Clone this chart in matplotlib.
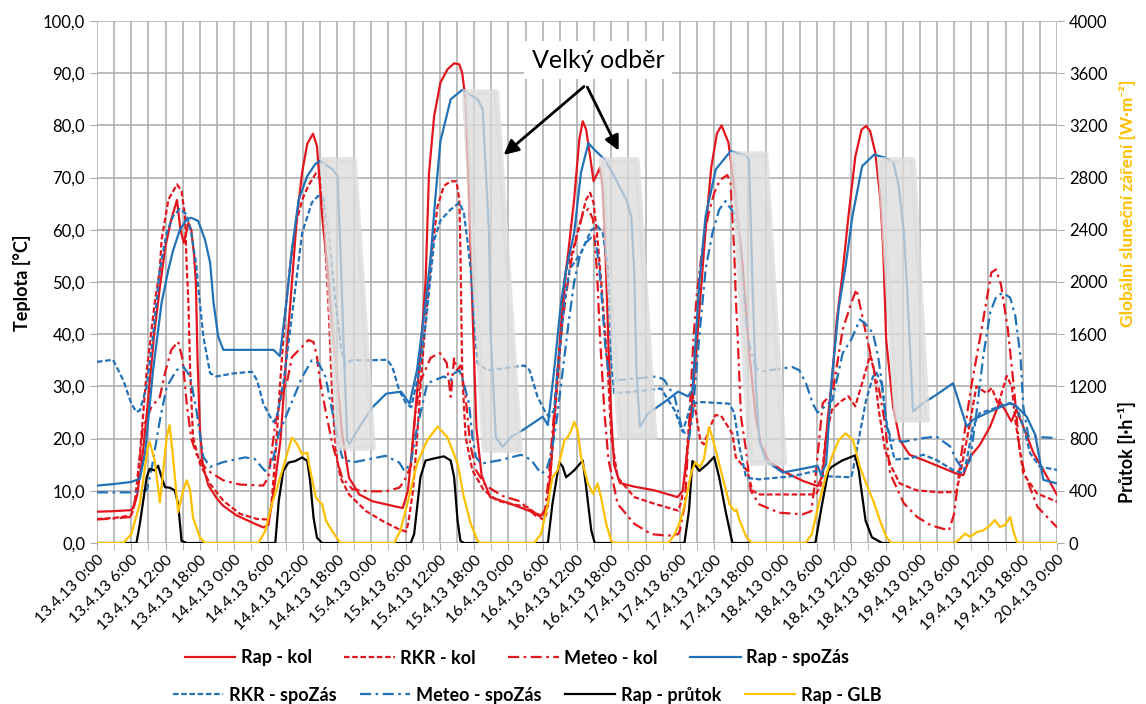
import datetime as dt
import matplotlib
matplotlib.use("Agg")
import matplotlib.pyplot as plt
from matplotlib.patches import Polygon
from matplotlib.ticker import FuncFormatter, MultipleLocator

plt.rcParams['font.family'] = ['Lato', 'DejaVu Sans']

# time in hours since 13.4.2013 0:00, temperature in degC
rap_kol = [(0, 6.0), (3, 6.1), (6, 6.3), (6.5, 7.2), (7, 9), (8, 17), (9, 28), (10, 40), (11, 49), (12, 57),
           (13, 62), (14, 65.7), (14.6, 60), (15.2, 57.5), (16, 61.3), (16.5, 60), (17, 55), (17.3, 50),
           (17.6, 35), (18, 22), (18.5, 15), (19.5, 11), (21, 8.5), (22, 7.2), (24.4, 5.3), (26, 4.5),
           (28, 3.5), (29.1, 3.0), (30, 3.5), (31.2, 12), (32.1, 19.6), (33.2, 36.9), (34.1, 49.8),
           (35, 62.6), (35.9, 71), (36.8, 76.5), (37.8, 78.4), (38.5, 76), (39.4, 62.6), (40.6, 49.8),
           (41.8, 33.7), (42.9, 20.9), (44.1, 12.5), (45.9, 9.3), (48.2, 8.0), (51.8, 7.1), (53.5, 6.7),
           (54.4, 10), (54.9, 15.2), (56.6, 36.3), (57.5, 50), (58.1, 70.9), (59, 81.8), (60.1, 88.2),
           (61.3, 90.7), (62.5, 91.9), (63.4, 91.7), (63.9, 90.1), (64.5, 85), (65, 70), (65.7, 45),
           (66.4, 22), (67.3, 13), (68.8, 8.8), (72.4, 7.5), (77.7, 5.3), (78.9, 7), (79.4, 13.9),
           (80.6, 33), (81.8, 50), (82.4, 55), (83.5, 65.8), (84.4, 77.3), (85, 80.8), (85.6, 79.2),
           (86.2, 74.8), (86.9, 69.3), (87.6, 70.9), (88, 71.9), (88.5, 68.4), (89, 55), (89.5, 38),
           (90, 24), (90.5, 15), (91.5, 11.5), (94, 10.8), (97.5, 10.1), (101.6, 8.8), (102.5, 10),
           (103.9, 23.5), (105.1, 40), (106.5, 60), (107.5, 72), (108.5, 78.5), (109.3, 80), (110.5, 76.7),
           (111.8, 65.8), (113, 53), (114.1, 36.9), (115.3, 24.1), (116.2, 18.9), (117.6, 15.7),
           (120, 13.8), (123.5, 11.9), (126.1, 10.9), (127, 13), (127.9, 24), (128.6, 31), (129.5, 43),
           (130.4, 51), (131.5, 62.6), (132.7, 74), (133.8, 79.2), (134.6, 79.9), (135.3, 78.9),
           (136.2, 74.8), (137.1, 65.8), (137.6, 56), (138.1, 39), (139.3, 26.2), (140.5, 19.7),
           (142.2, 16.9), (144.6, 15.9), (147.5, 14.6), (150.4, 13.3), (151.6, 13), (152.8, 16.5),
           (154.5, 18.8), (156.3, 22.3), (158, 27.1), (158.9, 25.5), (160, 23.3), (160.9, 25.5),
           (162.1, 22.3), (163.9, 17.2), (165.6, 14), (168, 9.2)]

rkr_kol = [(0, 4.6), (3, 4.8), (6, 5.3), (6.6, 7.5), (7.5, 17), (8.7, 33), (10.1, 46), (11, 52.4),
           (11.3, 58.1), (12.5, 65.8), (14, 68.7), (14.8, 67.4), (15.4, 62.6), (15.7, 53), (16, 46),
           (16.3, 33), (16.8, 20.3), (18, 15.2), (19.8, 11.3), (22.1, 8.1), (25, 5.6), (28, 4.6),
           (30, 4.5), (30.5, 7), (31.3, 18), (32.2, 33), (33, 45), (34, 55), (35, 62), (36, 66),
           (37, 68.5), (38.3, 70.8), (39, 70), (39.8, 60), (40.6, 43.4), (41.2, 27.3), (41.8, 17.7),
           (42.6, 12.5), (44.1, 9.3), (47.1, 6.1), (50, 4.2), (52.9, 2.6), (54.1, 2.2), (54.5, 4),
           (55.3, 10), (56, 20), (56.8, 33), (57.7, 45), (58.5, 55), (59.6, 64.5), (60.7, 68.4),
           (61.9, 69.3), (62.9, 69.3), (63.4, 65.8), (63.6, 56.2), (63.9, 33.1), (64.5, 20.3),
           (65.7, 13.9), (67.7, 10.1), (70.1, 8.1), (72.4, 7.5), (75.3, 6.9), (77.7, 4.9), (78.6, 5.3),
           (79.4, 13.9), (80.3, 26.7), (81.2, 39.6), (82.1, 52.4), (83, 55), (84.4, 60.7), (85.6, 65.8),
           (86.3, 67.1), (86.9, 65.2), (87.6, 58.1), (88.2, 50.5), (88.8, 42), (89.4, 33), (90, 20.3),
           (91.1, 12.6), (94, 8.8), (97.6, 7.5), (101.7, 6.2), (102.3, 8), (103, 14), (103.7, 24),
           (104.2, 28.6), (104.8, 25), (105.6, 19.5), (106.2, 18.9), (107.2, 22), (108.2, 24.5),
           (109.2, 24.4), (110.3, 22.5), (111.2, 20.9), (111.8, 16.4), (113.8, 13.8), (114.7, 10),
           (116, 9.3), (121.7, 9.3), (125.8, 9.3), (126.7, 11.2), (127.5, 20), (128.6, 25.5), (130, 27),
           (131.5, 28.1), (132.7, 26.2), (134, 31), (135.3, 36), (136, 33), (136.8, 25.5), (137.9, 17.8),
           (139, 14.6), (140.5, 11.4), (143.4, 10.1), (147.5, 9.7), (150.4, 9.8), (151.2, 14),
           (152.2, 19.7), (153.9, 30), (155.7, 28.7), (156.6, 29.7), (157.7, 26.5), (159.2, 32),
           (160.1, 30), (160.7, 23.6), (162.1, 13.3), (164.5, 9.5), (168, 7.9)]

meteo_kol = [(0, 4.5), (3, 4.7), (6, 5), (7, 10), (8, 22), (9.5, 26), (11, 28), (12, 33), (13, 37),
             (14.2, 38.6), (15, 35), (15.7, 26.7), (16.5, 20), (17.4, 17), (19.2, 14), (22.1, 12),
             (25, 11.2), (29.1, 11), (30, 12.6), (31.2, 22.8), (32.4, 29.2), (33.2, 30.5), (34.1, 35.6),
             (35.9, 37.6), (37, 38.9), (37.9, 38.5), (38.5, 35.6), (39.1, 30.5), (40, 25.4), (41.2, 18.9),
             (42.9, 12.5), (44.7, 10.3), (47.6, 9.9), (50.6, 9.9), (52.9, 10.6), (53.8, 11.9), (55, 15),
             (55.7, 25), (56.6, 31), (57.8, 34), (58.4, 35.5), (60, 36.4), (61.2, 34.5), (61.9, 28),
             (62.5, 35.5), (63, 33), (63.6, 34), (64.5, 28), (65.3, 19), (66.3, 14), (68, 11), (71, 9),
             (74, 8), (77, 5), (78.2, 4.5), (79, 12), (80, 25), (81, 38), (82, 47), (83, 54), (84, 59),
             (85, 63), (86, 64), (86.8, 62), (87.5, 52), (88, 40), (88.8, 25), (89.5, 16), (91.1, 7.5),
             (94, 3.7), (97, 1.7), (99.9, 1.4), (101.7, 1.7), (102, 2.4), (102.9, 7.5), (103.8, 26.7),
             (104.4, 39.6), (105, 48), (106, 57), (107, 63), (108, 67), (109, 69.5), (110.3, 70.5),
             (110.9, 69), (111.5, 56.2), (111.8, 46.6), (112.1, 40.1), (112.7, 24.1), (113.6, 17.7),
             (114.4, 10), (115.9, 7.4), (119.4, 5.8), (123.5, 5.5), (125, 6.1), (125.6, 11.2),
             (126.4, 20), (127, 26.8), (128.7, 28.7), (130.5, 40.9), (132, 46), (132.9, 48.6),
             (133.8, 44.1), (134.6, 40), (136, 33), (137, 28.7), (137.9, 22.9), (138.8, 13.3),
             (141.2, 7.6), (143.5, 5), (145.9, 3.4), (149.1, 2.4), (150, 5.6), (151.2, 16.5),
             (152.9, 29.4), (154.7, 40.3), (156.5, 51.8), (157.3, 52.4), (158.2, 49.5), (159.4, 40.9),
             (160.5, 29.4), (161.4, 18.5), (162.3, 13.3), (164.6, 6.9), (168, 3)]

rap_spozas = [(0, 11), (3, 11.3), (6, 11.7), (7.5, 12.3), (8.4, 17.1), (9.8, 33), (11.3, 46), (12.5, 52.4),
              (13.3, 56), (14.5, 60), (15.7, 62), (16.5, 62.3), (17.7, 61.7), (18.9, 58.1), (19.8, 53.7),
              (20.4, 46), (21.2, 39.6), (22.1, 37), (30.9, 37), (32, 35.8), (33.2, 46.6), (34.1, 56.2),
              (35.3, 65.8), (36.8, 70.3), (38.2, 72.6), (39, 73.2), (41.2, 71.6), (42.1, 70.3),
              (42.6, 56.2), (43.2, 36.9), (43.8, 19.6), (44.2, 19), (45.9, 22.2), (48.2, 26),
              (50.6, 28.6), (53.2, 29), (54.7, 26.7), (56, 33.1), (57.5, 46), (58.4, 55), (59.2, 66),
              (60.1, 77), (61.9, 85), (63.9, 86.8), (66.6, 85), (67.5, 83.1), (68, 72.2), (68.6, 59.4),
              (68.9, 39.6), (69.8, 20.3), (71, 18.4), (72.4, 20.3), (73.6, 21), (75.3, 22.2), (78, 24.2),
              (78.9, 22.6), (80, 33.1), (81.2, 46), (82.1, 52.4), (83.5, 59.4), (84.7, 71), (86, 76.6),
              (87, 75.4), (88.8, 73.5), (90.5, 70.3), (92.6, 65.8), (93.5, 62.6), (94, 52.4), (94.4, 33),
              (95, 22.2), (96.4, 24.8), (99.3, 27), (101.7, 29), (103.4, 28.1), (104.2, 29.2),
              (105.4, 49.8), (106.5, 62.6), (108.3, 71.6), (110.9, 75.1), (113.6, 74.2), (114.1, 73.5),
              (114.7, 49.8), (115.3, 30.5), (115.9, 19.6), (117.1, 15.7), (120, 13.5), (122.9, 14.1),
              (126.1, 14.8), (126.7, 13.2), (127.6, 15.1), (128.5, 30.5), (129.8, 45), (131, 53),
              (132.2, 62.6), (133.9, 72.2), (136, 74.4), (138, 73.8), (139.4, 72.8), (140.3, 68.4),
              (141.2, 59.5), (141.8, 48), (142.2, 39), (142.8, 25.2), (144.6, 26.8), (146.9, 28.4),
              (149.8, 30.6), (152.2, 22.3), (153.3, 23.6), (156.3, 25.2), (159.8, 26.8), (160.9, 26.2),
              (162.7, 24.2), (164.2, 20.7), (165.6, 12.1), (168, 11.4)]

rkr_spozas = [(0, 34.7), (2.8, 35.1), (4.6, 31.2), (6, 26.7), (6.9, 25.1), (7.5, 25.4), (8.7, 30),
              (9.8, 39.6), (11, 52.4), (12.2, 59.4), (13.3, 62.6), (14.5, 64), (15.7, 62.9), (16.5, 59.4),
              (17.4, 53), (17.7, 49.2), (18.6, 39.6), (19.8, 32.5), (20.9, 31.9), (23.9, 32.5),
              (27.1, 32.8), (28, 31.2), (29.1, 26.7), (30.3, 24.2), (30.9, 23.2), (31.5, 24.2),
              (32.6, 30.5), (34.1, 43.4), (35.9, 59.4), (37.6, 65.2), (38.7, 66.5), (39.6, 66.1),
              (40.5, 59.4), (41.7, 46.6), (42.8, 36.9), (43.4, 34.3), (44.6, 35), (47.6, 35), (50.8, 35.1),
              (51.7, 33.7), (52.9, 29.2), (54.1, 26.7), (55, 26), (55.9, 30.5), (56.4, 33), (57.6, 42.7),
              (58.5, 52.4), (59, 58), (60.1, 61.8), (61.9, 63.9), (63.4, 65.2), (64.2, 63.3), (64.8, 58.1),
              (65.4, 52.4), (66, 42.8), (66.6, 34.4), (68.3, 33.1), (70.7, 33.4), (74.8, 34), (75.7, 33.1),
              (77.1, 28), (78.3, 25.4), (79.1, 24.2), (80, 25.4), (80.6, 33.1), (81.8, 46), (82.7, 52.4),
              (84.7, 55.6), (86.5, 60), (87.6, 60.7), (88.5, 59.4), (89.4, 53), (90, 35), (90.5, 28.7),
              (94, 29), (98.7, 29.6), (101.1, 25.4), (102.5, 21.3), (104, 26.7), (105.8, 27),
              (110.6, 26.7), (111.5, 25), (112.5, 18), (113.6, 12.5), (115.9, 12.2), (121.7, 12.8),
              (125.8, 13.8), (127, 12.8), (132, 12.6), (132.3, 14), (133.5, 21), (134.6, 27.4),
              (135.8, 31.9), (136.4, 32.6), (137.3, 30.6), (138.1, 23.6), (139, 18.5), (139.6, 16),
              (142.2, 16.2), (144.6, 16.9), (146.9, 15.9), (149.8, 14), (151.6, 13.3), (152.2, 15.9),
              (153.3, 22.3), (154.5, 24.9), (156.3, 25.5), (158, 26.2), (159.8, 26.8), (160.9, 26.2),
              (162.1, 22.3), (163.3, 17.2), (165, 14.6), (168, 14)]

meteo_spozas = [(0, 9.7), (6, 9.7), (8.7, 10.1), (9.5, 13.9), (11, 23.5), (12.2, 29.9), (13.9, 33.1),
                (15.1, 33.8), (16.3, 31.9), (17.4, 25.4), (18.6, 16.5), (19.8, 14.6), (22.1, 15.5),
                (25.9, 16.4), (27.6, 16.1), (29.4, 13.8), (30.6, 15.1), (31.8, 20.9), (33.5, 25.4),
                (35.9, 31.8), (37.6, 35), (38.8, 34.4), (40, 31.8), (41.7, 22.2), (42.9, 16.4), (44.6, 15.4),
                (50.5, 16.7), (52.9, 15.4), (53.8, 13.8), (54.9, 15.2), (56, 22), (57.8, 30.6), (60.7, 31.9),
                (61.9, 31.2), (62.5, 32.5), (63.4, 33.1), (64.2, 30.6), (65.1, 26.7), (65.7, 20.3),
                (66.3, 16.5), (67.2, 15.2), (70.7, 15.9), (74.2, 16.9), (76, 15.9), (77.7, 13.3),
                (78.6, 13.9), (79.5, 17), (80.5, 24), (81.5, 33), (82.5, 42), (83.5, 50), (84.5, 55),
                (85.5, 57.5), (86.5, 58.5), (87.2, 58), (87.8, 54), (88.4, 46), (89, 37), (89.6, 32),
                (91.1, 31.2), (98.1, 31.9), (99.3, 31.2), (101.1, 28), (102.3, 22.2), (102.9, 21),
                (103.6, 20), (104.2, 24.1), (105.4, 39.5), (106.5, 52.4), (107.7, 59.4), (108.9, 63.9),
                (110, 65.5), (110.6, 64.5), (111.5, 63.3), (112.4, 58.8), (112.9, 51), (113.5, 43.4),
                (114.1, 38.2), (114.7, 35.7), (115.3, 33.7), (115.9, 32.8), (117.6, 33.1), (121.7, 33.7),
                (122.9, 33.1), (124.1, 30.5), (125.3, 26.6), (126.1, 25), (127, 25.8), (128.7, 27.4),
                (130.5, 36.4), (132, 39), (133.5, 42.8), (134.3, 42.2), (135.8, 40.2), (136.7, 35.7),
                (137.6, 28.7), (138.2, 22.3), (139.1, 19.7), (141.1, 19.4), (144.6, 20.1), (146.9, 20.4),
                (149.3, 18.5), (150.4, 15.9), (151.6, 13.9), (152.8, 15.9), (153.9, 24.9), (155.1, 35.8),
                (156.3, 44.1), (157.4, 47.3), (158.6, 47.9), (159.8, 47), (160.7, 43.5), (161.6, 35.8),
                (162.1, 26.2), (163, 20.4), (168, 20.1)]

# right axis: flow [l/h] and global radiation [W/m2]
prutok = [(0, 0), (6.9, 0), (7.5, 148), (8.7, 504), (9.2, 568), (10.1, 556), (10.7, 592), (11.3, 504),
          (11.9, 428), (12.7, 424), (13.6, 404), (14.2, 300), (14.8, 16), (15.7, 0), (31.2, 0), (31.8, 320),
          (32.6, 552), (33.5, 616), (34.7, 628), (35.9, 656), (36.8, 628), (37.3, 476), (37.9, 192),
          (38.5, 40), (39.4, 0), (54.9, 0), (55.5, 68), (56.6, 504), (57.5, 632), (59, 648), (60.7, 664),
          (61.9, 632), (62.5, 504), (63.1, 172), (63.6, 16), (64.2, 0), (78.9, 0), (79.7, 300), (80.9, 620),
          (81.5, 584), (82.1, 504), (83.5, 556), (85, 632), (85.6, 428), (86.5, 96), (87.1, 0),
          (102.8, 0), (103.6, 250), (104.2, 628), (105.4, 552), (106.8, 604), (108, 660), (108.9, 500),
          (110, 244), (111.2, 0), (125.7, 0), (126.9, 300), (128, 556), (128.6, 584), (130.4, 632),
          (132.7, 672), (133.3, 556), (134.5, 172), (135.6, 44), (137.4, 0), (168, 0)]

glb = [(0, 0), (4.6, 0), (6, 68), (7.5, 300), (8.9, 736), (9.2, 776), (10.1, 632), (11, 312), (11.6, 556),
       (12.2, 812), (12.7, 904), (13.3, 660), (14.2, 236), (15.1, 404), (15.7, 480), (16.3, 404),
       (16.8, 196), (18, 44), (18.9, 0), (28.2, 0), (29.4, 88), (30.6, 296), (32.4, 552), (34.1, 808),
       (35, 760), (35.9, 680), (36.8, 692), (37.1, 604), (38.3, 348), (39.4, 296), (40.1, 168),
       (41.2, 88), (42.6, 0), (52, 0), (53.1, 96), (54.3, 300), (56, 608), (57.8, 788), (59.6, 892),
       (61.3, 812), (63.1, 608), (64.2, 352), (65.4, 148), (66.6, 16), (67.2, 0), (76.5, 0), (77.7, 68),
       (78.9, 300), (79.7, 504), (80.6, 556), (81.8, 788), (82.4, 812), (83, 864), (83.5, 928),
       (84.1, 864), (84.7, 660), (85.9, 456), (86.8, 376), (87.6, 456), (88.2, 352), (89.1, 148),
       (90, 16), (90.5, 0), (100, 0), (101, 60), (102, 160), (103, 320), (104, 540), (104.7, 620),
       (105.5, 580), (106.2, 640), (107.1, 888), (107.7, 808), (108.3, 708), (109.5, 500), (110.7, 296),
       (111.6, 244), (111.9, 256), (112.5, 168), (113.7, 40), (114.6, 0), (124, 0), (125.1, 68),
       (126.3, 300), (127.5, 504), (128.6, 660), (129.8, 788), (131, 840), (132.3, 788), (133.5, 584),
       (134.6, 456), (135.8, 328), (137, 176), (138.1, 48), (139, 0), (150.1, 0), (151, 32),
       (151.9, 72), (152.8, 48), (154, 84), (155.1, 96), (156.3, 136), (157.1, 176), (158, 124),
       (158.9, 136), (159.8, 200), (160.4, 84), (161, 8), (161.5, 0), (168, 0)]

# "Velký odběr" periods: start top, end top, end bottom, start bottom [h], top / bottom [degC]
odber = [(39.5, 45.0, 48.3, 42.3, 73.4, 18.2),
         (64.3, 69.9, 74.0, 67.8, 86.4, 17.8),
         (88.3, 94.5, 97.6, 91.5, 73.4, 20.3),
         (111.2, 117.0, 120.3, 114.4, 74.5, 15.3),
         (137.0, 142.8, 145.3, 139.9, 73.4, 23.6)]

RED = '#e3161d'
BLUE = '#2272b8'
YELLOW = '#ffc000'
base = dt.datetime(2013, 4, 13)

fig = plt.figure(figsize=(11.46, 7.04), dpi=100)
ax = fig.add_axes([97 / 1146, 1 - 543 / 704, 960 / 1146, 522 / 704])
ax2 = ax.twinx()

def xy(series):
    return [p[0] for p in series], [p[1] for p in series]

lw = 1.6
l1, = ax.plot(*xy(rap_kol), color=RED, lw=lw)
l2, = ax.plot(*xy(rkr_kol), color=RED, lw=lw, ls=(0, (2.5, 1.2)))
l3, = ax.plot(*xy(meteo_kol), color=RED, lw=lw, ls=(0, (5, 2, 1.2, 2)))
l4, = ax.plot(*xy(rap_spozas), color=BLUE, lw=lw)
l5, = ax.plot(*xy(rkr_spozas), color=BLUE, lw=lw, ls=(0, (2.5, 1.2)))
l6, = ax.plot(*xy(meteo_spozas), color=BLUE, lw=lw, ls=(0, (5, 2, 1.2, 2)))
l7, = ax2.plot(*xy(prutok), color='black', lw=lw)
l8, = ax2.plot(*xy(glb), color=YELLOW, lw=lw)

for h0, h1, h2, h3, top, bot in odber:
    ax.add_patch(Polygon([(h0, top), (h1, top), (h2, bot), (h3, bot)], closed=True,
                         facecolor='#dcdcdc', edgecolor='#dcdcdc', lw=4, joinstyle='round',
                         alpha=0.75, zorder=3))

ax.set_xlim(0, 168)
ax.set_ylim(0, 100)
ax2.set_ylim(0, 4000)
ax.xaxis.set_major_locator(MultipleLocator(6))
ax.xaxis.set_minor_locator(MultipleLocator(3))
ax.yaxis.set_major_locator(MultipleLocator(10))
ax2.yaxis.set_major_locator(MultipleLocator(400))

def fmt_x(h, pos):
    t = base + dt.timedelta(hours=h)
    return f"{t.day}.{t.month}.{t.strftime('%y')} {t.hour}:00"

ax.xaxis.set_major_formatter(FuncFormatter(fmt_x))
ax.yaxis.set_major_formatter(FuncFormatter(lambda v, p: f"{v:.1f}".replace('.', ',')))
ax.grid(True, which='both', color='#ababab', lw=1.1)
ax.set_axisbelow(True)
for a in (ax, ax2):
    for s in a.spines.values():
        s.set_visible(False)
ax.tick_params(axis='x', which='both', length=5, color='#ababab', labelsize=11.5, pad=2)
ax.tick_params(axis='y', length=5, color='#ababab', labelsize=12)
ax2.tick_params(axis='y', length=5, color='#ababab', labelsize=12)
plt.setp(ax.get_xticklabels(), rotation=45, ha='right', rotation_mode='anchor')

ax.annotate('Velký odběr', xy=(87.7, 92.5), ha='center', va='center', fontsize=18, zorder=6,
            bbox=dict(boxstyle='square,pad=0.3', fc='white', ec='none'))
for tip in [(70.8, 74.0), (91.5, 74.7)]:
    ax.annotate('', xy=tip, xytext=(85.6, 87.8), zorder=6,
                arrowprops=dict(arrowstyle='-|>', color='black', lw=2, mutation_scale=22))

fig.text(22 / 1146, 1 - 283 / 704, 'Teplota [°C]', rotation=90, ha='center', va='center',
         fontsize=13, fontweight='bold')
fig.text(1127 / 1146, 1 - 203 / 704, 'Globální sluneční záření [W·m⁻²]', rotation=90, ha='center',
         va='center', fontsize=12.5, fontweight='bold', color=YELLOW)
fig.text(1127 / 1146, 1 - 452 / 704, 'Průtok [l·h⁻¹]', rotation=90, ha='center', va='center',
         fontsize=13, fontweight='bold')

leg_kw = dict(loc='center', ncol=4, frameon=False, prop=dict(weight='bold', size=13),
              handlelength=2.8, handletextpad=0.3)
fig.legend([l1, l2, l3, l4], ['Rap - kol', 'RKR - kol', 'Meteo - kol', 'Rap - spoZás'],
           bbox_to_anchor=(517 / 1146, 1 - 658 / 704), columnspacing=1.8, **leg_kw)
fig.legend([l5, l6, l7, l8], ['RKR - spoZás', 'Meteo - spoZás', 'Rap - průtok', 'Rap - GLB'],
           bbox_to_anchor=(527 / 1146, 1 - 695 / 704), columnspacing=1.3, **leg_kw)

fig.savefig('out.png', dpi=100)
